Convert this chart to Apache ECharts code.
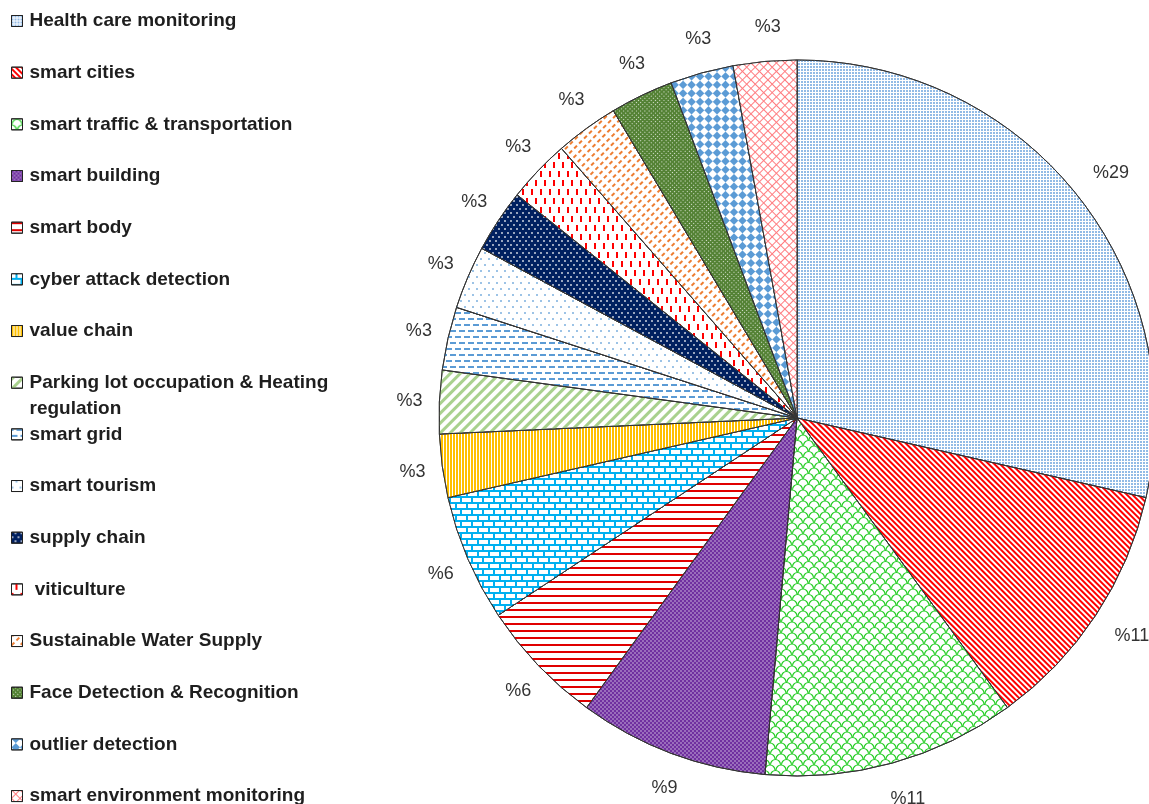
<!DOCTYPE html>
<html>
<head>
<meta charset="utf-8">
<script src="https://cdn.jsdelivr.net/npm/echarts@6/dist/echarts.min.js"></script>
<style>
html,body{margin:0;padding:0;background:#fff;}
#chart{width:1149px;height:804px;}
</style>
</head>
<body>
<div id="chart"></div>
<script>
// ---- data ----
const categories = [
  'Health care monitoring',
  'smart cities',
  'smart traffic & transportation',
  'smart building',
  'smart body',
  'cyber attack detection',
  'value chain',
  'Parking lot occupation & Heating regulation',
  'smart grid',
  'smart tourism',
  'supply chain',
  ' viticulture',
  'Sustainable Water Supply',
  'Face Detection & Recognition',
  'outlier detection',
  'smart environment monitoring'
];
const counts = [10, 4, 4, 3, 2, 2, 1, 1, 1, 1, 1, 1, 1, 1, 1, 1];

// ---- styles (fill + pattern per slice) ----
const Q = Math.PI / 4;
const scallop = 'path://M0,6 A6,6 0 0 1 12,6 L10.8,6 A4.8,4.8 0 0 0 1.2,6 Z ' +
  'M0,6 A6,6 0 0 1 6,12 L4.8,12 A4.8,4.8 0 0 0 0,7.2 Z ' +
  'M6,12 A6,6 0 0 1 12,6 L12,7.2 A4.8,4.8 0 0 0 7.2,12 Z';
const sliceStyles = [
  { bg: '#ffffff', decal: { color: '#92bbe6', symbol: 'rect', dashArrayX: [2, 1], dashArrayY: [2, 1] } },
  { bg: '#ffffff', decal: { color: '#ff0000', symbol: 'rect', dashArrayX: [1, 0], dashArrayY: [2, 2], rotation: Q } },
  { bg: '#ffffff', decal: { color: '#22cc22', symbol: scallop, dashArrayX: [11, 0], dashArrayY: [11, 0] } },
  { bg: '#7030a0', decal: { color: '#ffffff', symbol: 'rect', symbolSize: 0.6, dashArrayX: [[2, 2], [0, 2, 2, 0]], dashArrayY: [2, 0] } },
  { bg: '#ffffff', decal: { color: '#e00000', symbol: 'rect', dashArrayX: [1, 0], dashArrayY: [2, 5] } },
  { bg: '#00b0f0', decal: { color: '#ffffff', symbol: 'rect', dashArrayX: [[9, 2], [4, 2, 5, 0]], dashArrayY: [4, 2] } },
  { bg: '#ffffff', decal: { color: '#ffc000', symbol: 'rect', dashArrayX: [2, 1], dashArrayY: [1, 0] } },
  { bg: '#ffffff', decal: { color: '#a9d18e', symbol: 'rect', dashArrayX: [1, 0], dashArrayY: [3, 4], rotation: -Q } },
  { bg: '#ffffff', decal: { color: '#5b9bd5', symbol: 'rect', dashArrayX: [[6, 3], [2, 3, 4, 0]], dashArrayY: [2, 4] } },
  { bg: '#ffffff', decal: { color: '#5b9bd5', symbol: 'rect', symbolSize: 0.8, dashArrayX: [[2, 6], [0, 4, 2, 2]], dashArrayY: [2, 4] } },
  { bg: '#002060', decal: { color: '#ffffff', symbol: 'rect', symbolSize: 0.8, dashArrayX: [[2, 4], [0, 3, 2, 1]], dashArrayY: [2, 2] } },
  { bg: '#ffffff', decal: { color: '#ff0000', symbol: 'rect', dashArrayX: [[2, 7], [0, 4, 2, 3]], dashArrayY: [6, 3] } },
  { bg: '#ffffff', decal: { color: '#ed7d31', symbol: 'rect', dashArrayX: [4, 3], dashArrayY: [2, 4], rotation: -Q } },
  { bg: '#548235', decal: { color: '#ffffff', symbol: 'rect', symbolSize: 0.8, dashArrayX: [1, 2], dashArrayY: [1, 2], rotation: Q } },
  { bg: '#ffffff', decal: { color: '#5b9bd5', symbol: 'rect', dashArrayX: [[6, 6], [0, 6, 6, 0]], dashArrayY: [6, 0], rotation: Q } },
  { bg: '#ff7c80', decal: { color: '#ffffff', symbol: 'rect', dashArrayX: [5, 1], dashArrayY: [5, 1], rotation: Q } }
];

const pieData = categories.map((name, i) => ({
  name: name,
  value: counts[i],
  itemStyle: { color: sliceStyles[i].bg, decal: sliceStyles[i].decal }
}));
const labelData = categories.map((name, i) => ({ name: name, value: counts[i] }));

// legend split: two-line item gets its own box so the row spacing stays even
const STEP = 51.67, TOP0 = 8, PARK = 7;
const legendText = {
  fontFamily: 'Liberation Sans, Arial, sans-serif',
  fontWeight: 'bold',
  fontSize: 19,
  color: '#1e1e1e',
  lineHeight: 26,
  padding: [0, 0, 0, 2]
};
function legendBlock(names, top, extra) {
  return Object.assign({
    orient: 'vertical',
    left: 11,
    top: top,
    padding: 0,
    itemWidth: 11,
    itemHeight: 11,
    itemGap: STEP - 26,
    icon: 'rect',
    selectedMode: false,
    height: 800,
    itemStyle: { borderColor: '#222', borderWidth: 1 },
    textStyle: legendText,
    data: names
  }, extra || {});
}

const chart = echarts.init(document.getElementById('chart'), null, { renderer: 'canvas' });
chart.setOption({
  animation: false,
  backgroundColor: '#ffffff',
  legend: [
    legendBlock(categories.slice(0, PARK), TOP0),
    legendBlock(categories.slice(PARK, PARK + 1), TOP0 + PARK * STEP - 26, {
      // leading blank line keeps the first text line level with the icon
      formatter: n => '\n' + n.replace(' regulation', '\nregulation')
    }),
    legendBlock(categories.slice(PARK + 1), TOP0 + (PARK + 1) * STEP)
  ],
  series: [
    {
      type: 'pie',
      center: [797, 418],
      radius: 358,
      startAngle: 90,
      clockwise: true,
      silent: true,
      label: { show: false },
      labelLine: { show: false },
      itemStyle: { borderColor: '#333', borderWidth: 1 },
      emphasis: { disabled: true },
      data: pieData
    },
    {
      type: 'pie',
      center: [803, 419],
      radius: [358, 424],
      startAngle: 90,
      clockwise: true,
      silent: true,
      itemStyle: { color: 'rgba(0,0,0,0)', borderWidth: 0 },
      labelLine: { show: false },
      emphasis: { disabled: true },
      label: {
        show: true,
        position: 'inside',
        formatter: p => '%' + Math.round(p.percent),
        fontFamily: 'Liberation Sans, Arial, sans-serif',
        fontSize: 18,
        color: '#333'
      },
      data: labelData
    }
  ]
});
</script>
</body>
</html>
